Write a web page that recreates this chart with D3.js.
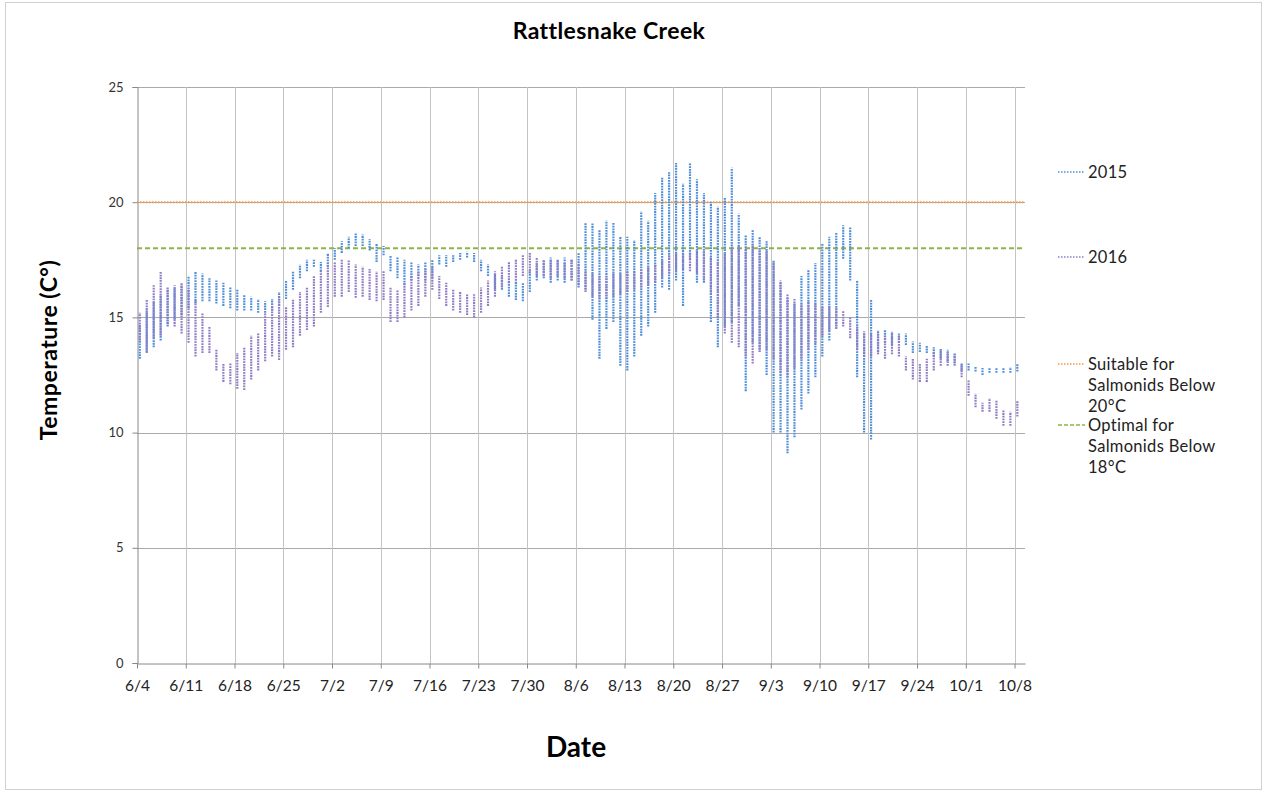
<!DOCTYPE html>
<html>
  <head>
    <meta charset="utf-8">
    <title>Rattlesnake Creek</title>
    <style>
      body { margin: 0; background: #fff; }
      svg { display: block; font-family: Lato, "Open Sans", sans-serif; }
    </style>
  </head>
  <body>
    <div id="chart"></div>
    <script src="https://cdn.jsdelivr.net/npm/d3@7"></script>
    <script>
      // daily min / max water temperature, one entry per day starting 6/4
      var min2015 = [13.2,13.5,13.7,14.0,14.6,14.9,15.1,15.4,15.6,15.7,15.7,15.6,15.5,15.4,15.3,15.3,15.3,15.2,15.2,15.3,15.5,
        15.8,16.2,16.7,17.0,17.2,17.0,17.2,17.5,17.8,18.0,18.1,18.1,17.9,17.4,17.7,17.0,16.7,16.4,16.6,16.8,16.6,
        16.7,17.3,17.2,17.4,17.5,17.6,17.4,17.0,16.8,16.2,16.2,15.9,15.75,15.7,16.1,16.6,16.7,16.5,16.6,16.5,16.6,
        16.3,16.2,14.9,13.2,14.5,14.8,12.9,12.7,13.3,14.2,14.6,15.2,16.3,16.2,16.6,15.5,17.5,16.5,16.5,14.8,13.7,
        14.6,14.8,15.5,11.8,13.9,13.6,12.5,10.0,10.0,9.1,9.8,11.0,11.7,12.4,13.3,14.0,14.6,17.55,16.6,12.4,10.0,
        9.7,13.5,13.9,13.8,13.9,13.8,13.45,13.5,13.45,13.3,13.2,13.1,13.0,12.7,12.7,12.65,12.5,12.6,12.6,12.6,12.6,12.65];
      var max2015 = [14.7,15.3,15.7,16.0,16.2,16.3,16.4,16.8,17.0,16.9,16.7,16.6,16.5,16.3,16.2,16.0,15.9,15.8,15.7,15.8,16.1,
        16.6,17.0,17.3,17.5,17.5,17.4,17.8,18.0,18.3,18.5,18.65,18.6,18.4,18.2,18.1,17.7,17.6,17.5,17.4,17.3,17.4,
        17.5,17.7,17.7,17.7,17.8,17.85,17.8,17.5,17.3,16.9,16.8,16.6,16.6,16.5,17.0,17.35,17.5,17.6,17.5,17.6,17.5,
        17.8,19.1,19.1,18.8,19.2,19.1,18.5,18.5,18.35,19.6,19.2,20.4,21.1,21.3,21.7,20.8,21.7,21.0,20.4,20.0,19.8,
        20.2,21.5,19.5,18.6,18.8,18.5,18.3,17.5,16.5,15.9,15.6,16.8,17.05,17.35,18.2,18.5,18.7,19.0,18.9,16.6,14.3,
        15.75,14.45,14.45,14.4,14.3,14.3,13.95,13.9,13.8,13.7,13.65,13.6,13.45,13.0,13.0,12.85,12.8,12.8,12.8,12.8,12.85,13.0];
      var min2016 = [14.0,13.45,14.1,14.2,14.7,14.6,14.3,13.9,13.3,13.45,13.45,12.7,12.2,12.1,11.9,11.85,12.3,12.7,13.1,13.3,13.15,
        13.6,13.7,14.2,14.45,14.6,15.2,15.45,15.9,15.9,16.1,15.85,15.9,15.75,15.7,15.75,14.8,14.8,15.0,15.3,15.5,15.9,
        16.2,15.8,15.5,15.3,15.2,15.1,15.0,15.2,15.5,15.9,16.3,16.5,16.6,16.8,16.9,16.8,16.8,16.7,16.8,16.7,16.6,
        16.4,16.1,15.9,15.8,15.8,15.9,16.0,16.1,16.2,16.3,16.4,16.5,16.7,16.9,17.0,17.1,17.0,16.9,16.6,16.0,15.0,
        14.3,13.9,13.7,13.3,13.0,13.5,13.6,13.2,12.6,12.4,12.8,13.2,13.6,13.9,14.2,14.4,14.5,14.6,14.1,13.6,13.3,
        13.3,13.4,13.2,13.4,13.3,12.7,12.3,12.2,12.2,12.7,12.9,12.9,12.9,12.4,11.6,11.1,10.9,10.9,10.6,10.3,10.3,10.7];
      var max2016 = [15.2,15.75,16.4,17.0,16.3,16.4,16.5,16.2,15.75,15.2,14.6,13.6,13.0,13.0,13.45,13.7,14.2,14.3,15.2,15.5,15.9,
        15.45,15.8,16.1,16.3,16.8,17.05,17.35,17.4,17.5,17.5,17.3,17.2,17.1,17.0,17.0,16.3,16.2,16.5,16.8,17.0,17.1,
        17.2,16.8,16.5,16.2,16.1,16.0,16.0,16.3,16.6,17.0,17.2,17.4,17.5,17.7,17.8,17.6,17.5,17.5,17.5,17.4,17.5,
        17.3,17.0,16.9,16.8,16.8,16.9,16.9,17.0,17.0,17.1,17.2,17.3,17.5,17.7,17.8,17.8,17.8,17.9,17.9,17.6,17.4,
        17.8,18.0,18.1,18.0,18.2,18.0,17.9,17.4,16.6,16.0,15.8,15.6,15.7,15.6,15.5,15.5,15.4,15.3,15.0,14.6,14.4,
        14.3,14.3,14.2,14.3,14.2,13.3,13.2,13.0,13.2,13.5,13.6,13.5,13.4,12.95,12.3,11.7,11.3,11.5,11.4,11.0,10.9,11.4];

      var tickLabels = ['6/4','6/11','6/18','6/25','7/2','7/9','7/16','7/23','7/30','8/6','8/13',
        '8/20','8/27','9/3','9/10','9/17','9/24','10/1','10/8'];
      var yTicks = [0, 5, 10, 15, 20, 25];
      var suitable = 20;
      var optimal = 18;

      var width = 1266, height = 793;
      var svg = d3.select('#chart').append('svg')
        .attr('width', width)
        .attr('height', height);

      svg.append('rect')
        .attr('x', 5.5).attr('y', 2.5)
        .attr('width', 1256).attr('height', 787)
        .attr('fill', '#fff')
        .attr('stroke', '#d0d0d0');

      var x = d3.scaleLinear().domain([0, 127.5]).range([137, 1025]);
      var y = d3.scaleLinear().domain([0, 25]).range([663, 87]);

      // grid
      svg.append('g').selectAll('line')
        .data(yTicks.slice(1))
        .enter().append('line')
        .attr('x1', x(0)).attr('x2', x(127.5))
        .attr('y1', function(d) { return Math.round(y(d)) + 0.5; })
        .attr('y2', function(d) { return Math.round(y(d)) + 0.5; })
        .attr('stroke', '#aaa');
      svg.append('g').selectAll('line')
        .data(tickLabels.slice(1))
        .enter().append('line')
        .attr('x1', function(d, i) { return Math.round(x((i + 1) * 7)) + 0.5; })
        .attr('x2', function(d, i) { return Math.round(x((i + 1) * 7)) + 0.5; })
        .attr('y1', y(25)).attr('y2', y(0))
        .attr('stroke', '#c4c4c4');

      // axes
      var yAxis = d3.axisLeft(y).tickValues(yTicks).tickSize(5).tickPadding(9);
      svg.append('g')
        .attr('transform', 'translate(' + (Math.round(x(0)) + 0.5) + ',0)')
        .call(yAxis)
        .call(function(g) {
          g.select('.domain').attr('stroke', '#888');
          g.selectAll('.tick line').attr('stroke', '#888');
          g.selectAll('.tick text').attr('font-size', 13).attr('fill', '#333')
            .attr('font-family', 'Lato, sans-serif');
        });

      var xAxis = d3.axisBottom(x)
        .tickValues(tickLabels.map(function(d, i) { return i * 7; }))
        .tickFormat(function(d) { return tickLabels[d / 7]; })
        .tickSize(5).tickPadding(11).tickSizeOuter(0);
      svg.append('g')
        .attr('transform', 'translate(0,' + (Math.round(y(0)) + 0.5) + ')')
        .call(xAxis)
        .call(function(g) {
          g.select('.domain').attr('stroke', '#888');
          g.selectAll('.tick line').attr('stroke', '#888');
          g.selectAll('.tick text').attr('font-size', 15.5).attr('fill', '#222')
            .attr('font-family', 'Lato, sans-serif');
        });

      // reference lines
      svg.append('line')
        .attr('x1', x(0)).attr('x2', x(127.5))
        .attr('y1', y(suitable)).attr('y2', y(suitable))
        .attr('stroke', '#f79646').attr('stroke-width', 2)
        .attr('stroke-dasharray', '1.5,1.5');
      svg.append('line')
        .attr('x1', x(0)).attr('x2', x(127.5))
        .attr('y1', y(optimal)).attr('y2', y(optimal))
        .attr('stroke', '#8fb348').attr('stroke-width', 2)
        .attr('stroke-dasharray', '5,3');

      // daily ranges
      function drawSeries(mins, maxs, color) {
        svg.append('g').selectAll('line')
          .data(mins)
          .enter().append('line')
          .attr('x1', function(d, i) { return x(i + 0.4); })
          .attr('x2', function(d, i) { return x(i + 0.4); })
          .attr('y1', function(d) { return y(d); })
          .attr('y2', function(d, i) { return y(maxs[i]); })
          .attr('stroke', color)
          .attr('stroke-width', 2.2)
          .attr('stroke-dasharray', '1.8,0.9');
      }
      drawSeries(min2015, max2015, '#4f8fd8');
      drawSeries(min2016, max2016, '#917dc4');

      // titles
      svg.append('text')
        .attr('x', 609).attr('y', 39)
        .attr('text-anchor', 'middle')
        .attr('font-size', 23).attr('font-weight', 'bold')
        .attr('letter-spacing', 0.4)
        .text('Rattlesnake Creek');
      svg.append('text')
        .attr('x', 576).attr('y', 757)
        .attr('text-anchor', 'middle')
        .attr('font-size', 28).attr('font-weight', 'bold')
        .text('Date');
      svg.append('text')
        .attr('transform', 'translate(57,350) rotate(-90)')
        .attr('text-anchor', 'middle')
        .attr('font-size', 23).attr('font-weight', 'bold')
        .attr('letter-spacing', 0.5)
        .text('Temperature (C°)');

      // legend
      var legend = [
        { lines: ['2015'], color: '#4f8fd8', dash: '1.5,1.5', y: 172 },
        { lines: ['2016'], color: '#917dc4', dash: '1.5,1.5', y: 257 },
        { lines: ['Suitable for', 'Salmonids Below', '20°C'], color: '#f79646', dash: '1.5,1.5', y: 364 },
        { lines: ['Optimal for', 'Salmonids Below', '18°C'], color: '#8fb348', dash: '4,2', y: 425 }
      ];
      var lg = svg.append('g').selectAll('g')
        .data(legend)
        .enter().append('g');
      lg.append('line')
        .attr('x1', 1058).attr('x2', 1085)
        .attr('y1', function(d) { return d.y; })
        .attr('y2', function(d) { return d.y; })
        .attr('stroke', function(d) { return d.color; })
        .attr('stroke-width', 1.5)
        .attr('stroke-dasharray', function(d) { return d.dash; });
      lg.append('text')
        .attr('font-size', 16.5).attr('fill', '#222')
        .attr('letter-spacing', 0.3)
        .selectAll('tspan')
        .data(function(d) { return d.lines.map(function(t, k) { return { t: t, y: d.y + 6 + k * 21 }; }); })
        .enter().append('tspan')
        .attr('x', 1088)
        .attr('y', function(d) { return d.y; })
        .text(function(d) { return d.t; });
    </script>
  </body>
</html>
